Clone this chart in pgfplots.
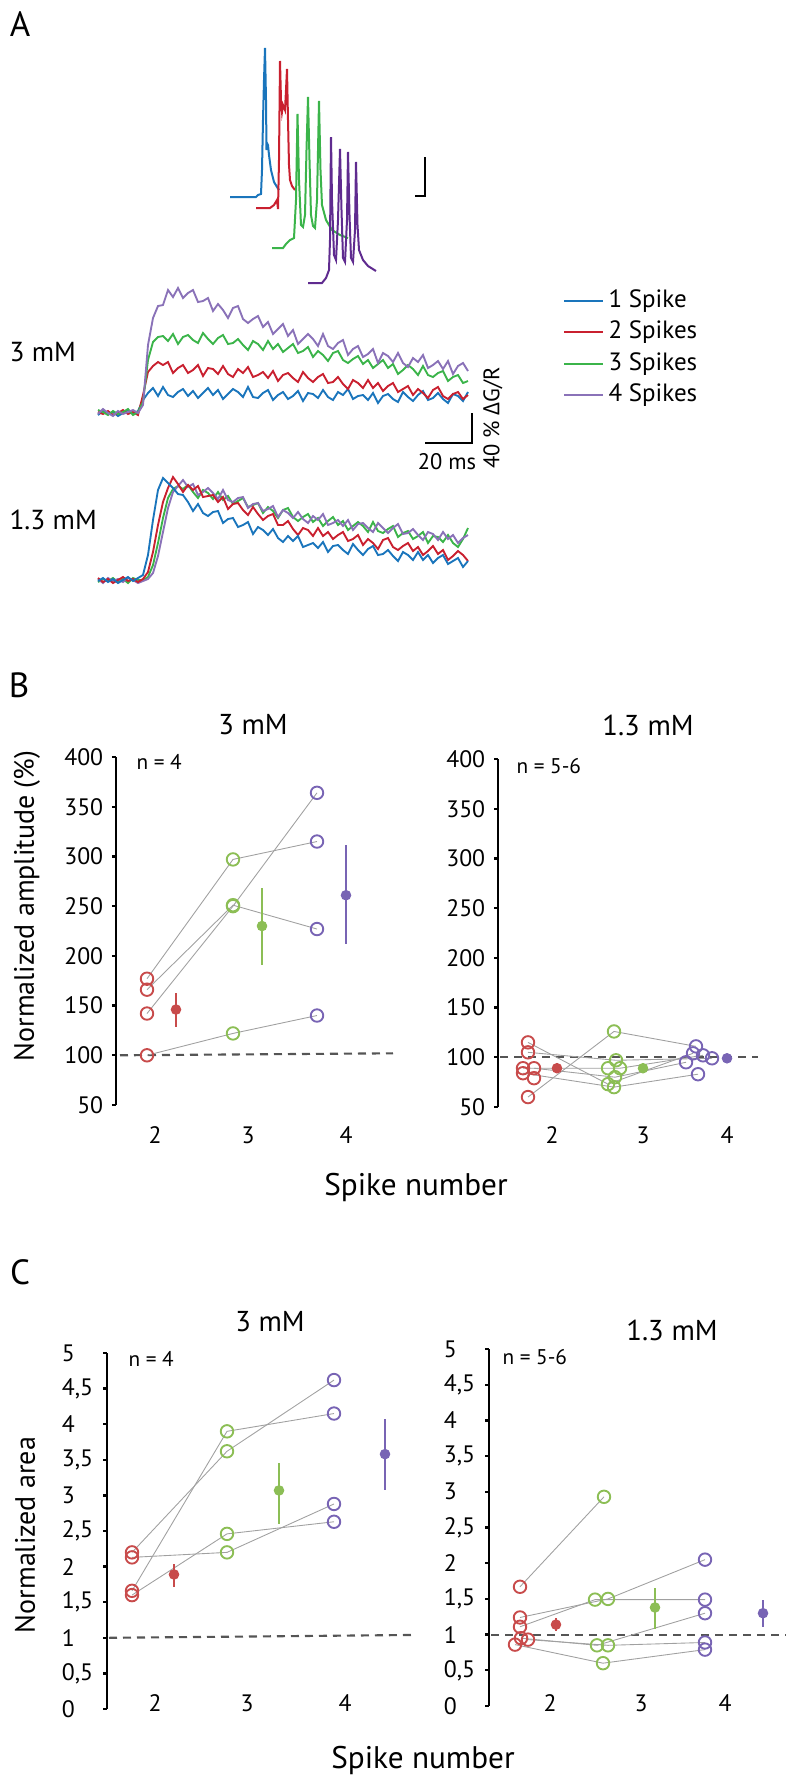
\documentclass[border=0pt]{standalone}
\usepackage{pgfplots}
\pgfplotsset{compat=1.18}
\usepackage{pgfplotstable}
\usepackage{fontspec}
\setmainfont{PT Sans}
\newfontfamily\grk{Open Sans}
\newcommand\fs[1]{\fontsize{#1}{#1}\selectfont}
\definecolor{redc}{HTML}{C84B4B}
\definecolor{greenc}{HTML}{8CBE55}
\definecolor{purplec}{HTML}{7864B4}
\definecolor{tblue}{HTML}{1A75BC}
\definecolor{tred}{HTML}{C9202F}
\definecolor{tgreen}{HTML}{3BB44A}
\definecolor{tpurple}{HTML}{8A72B8}
\definecolor{spurple}{HTML}{5F2B8F}
\definecolor{dashc}{HTML}{555555}
\definecolor{linkc}{HTML}{A0A0A0}

\pgfplotstableread{
x b3 r3 g3 p3 b1 r1 g1 p1
98 415 412 410 414 581 578 582 579
103 411 414 412 409 578 582 579 583
108 414 411 415 413 582 579 581 578
113 412 415 411 416 579 583 578 581
118 416 413 414 411 583 580 582 579
123 413 410 412 414 580 577 579 582
128 410 414 409 412 577 581 583 578
133 414 412 415 410 581 579 578 580
138 411 415 412 413 578 582 580 583
143 400 395 402 405 575 579 580 581
148 393 372 360 345 555 572 577 579
153 388 366 342 318 520 552 565 573
158 396 362 337 306 490 525 543 556
163 387 365 336 305 478 502 518 532
168 395 362 341 290 483 488 498 508
173 397 373 334 297 488 477 489 492
178 392 368 344 288 494 484 486 486
183 389 365 337 298 495 492 489 480
188 396 373 335 293 502 485 485 487
193 391 370 340 290 511 490 492 484
198 398 365 343 302 504 486 498 495
203 393 376 333 301 513 497 490 492
208 388 368 339 298 516 496 493 488
213 395 369 344 311 512 495 499 493
218 390 374 338 304 511 502 492 499
223 399 366 335 310 523 497 500 490
228 394 374 344 318 519 509 496 500
233 389 377 343 308 518 504 504 502
238 392 369 339 306 527 503 501 498
243 397 373 345 319 525 510 498 497
248 387 367 350 323 522 515 507 508
253 397 377 341 319 534 507 505 504
258 398 375 344 316 527 514 503 503
263 393 372 350 327 530 520 513 511
268 390 378 341 322 535 516 507 509
273 400 371 349 334 529 514 511 506
278 395 381 344 329 538 525 518 517
283 392 375 352 324 542 525 510 510
288 399 373 348 336 536 521 508 513
293 396 378 344 330 541 529 517 518
298 391 382 353 344 536 535 521 512
303 401 372 351 339 547 528 517 519
308 393 378 347 334 545 530 514 523
313 394 382 357 339 543 536 522 516
318 398 377 351 346 548 528 518 520
323 390 374 355 334 542 536 526 514
328 397 383 361 346 552 532 521 525
333 400 382 353 349 546 539 517 523
338 392 377 351 343 545 535 525 520
343 395 384 360 340 550 532 521 526
348 389 389 363 355 554 541 530 520
353 399 380 359 349 544 539 526 530
358 396 383 356 346 550 535 522 524
363 395 388 364 357 555 545 526 523
368 400 380 360 354 549 539 532 528
373 393 388 368 349 546 543 522 532
378 403 383 364 363 555 549 531 523
383 396 391 360 353 554 540 533 528
388 394 386 368 356 550 538 529 533
393 399 383 364 362 556 547 526 528
398 402 392 374 353 561 550 537 524
403 392 389 370 363 552 546 533 534
408 397 386 365 367 555 543 531 533
413 401 395 369 358 560 551 539 529
418 395 389 375 362 552 547 536 535
423 391 393 366 355 560 555 532 540
428 400 398 375 368 555 551 543 532
433 398 390 377 365 563 546 536 534
438 393 387 373 361 558 554 537 540
443 399 396 371 369 555 550 542 532
448 403 399 381 361 564 560 535 539
453 394 394 377 374 561 556 543 535
458 396 392 375 366 558 551 547 543
463 401 399 383 363 567 555 539 538
468 392 395 381 371 561 561 528 535
}\traces

\pgfplotsset{
  panel/.style={scale only axis, clip=false, hide x axis, axis y line=left,
    y axis line style={-, line width=0.9pt, black},
    ytick style={line width=0.9pt, black}, tick align=outside,
    major tick length=1.6pt,
    yticklabel style={font=\fs{9.5}, black}},
  link/.style={linkc, line width=0.35pt, mark=none, forget plot},
  opn/.style={only marks, mark=o, mark size=2.5pt, mark options={solid, line width=0.75pt}, color=#1},
  fil/.style={only marks, mark=*, mark size=1.9pt, color=#1,
    error bars/.cd, y dir=both, y explicit, error mark=none,
    error bar style={line width=0.85pt, #1}},
  dsh/.style={dashc, line width=0.85pt, dash pattern=on 3.2pt off 2.4pt, mark=none},
}

\begin{document}
\begin{tikzpicture}[x=0.4pt,y=-0.4pt]
\path[use as bounding box] (0,0) rectangle (786,1775);

% ---------------- Panel A ----------------
\begin{axis}[at={(0pt,0pt)}, anchor=north west, scale only axis, hide axis, clip=false,
  width=314.4pt, height=256pt, xmin=0, xmax=786, ymin=0, ymax=640, y dir=reverse]
% spike traces
\addplot[tblue, line width=0.8pt] coordinates {(230,197)(256,197)(258,195)(261,194)(262,170)(263,120)(264,80)(265,48)(266,100)(266.5,150)(267,143)(268,145)(269,155)(271,170)(274,182)(277,187)(279,190)};
\addplot[tred, line width=0.8pt] coordinates {(256,208)(270,208)(274,205)(277,200)(278,209)(279,160)(280,61)(281,100)(282,112)(283,105)(285,110)(286,90)(287,69)(288,120)(289,165)(290,180)(292,186)(295,190)};
\addplot[tgreen, line width=0.8pt] coordinates {(272,248)(283,248)(286,244)(290,240)(294,238)(296,200)(297.5,114)(299,180)(301,225)(303,227)(305,215)(306.5,150)(308,97)(309.5,160)(311,215)(313,226)(315,228)(317,200)(319,101)(320.5,170)(322,205)(326,220)(332,230)(340,235)(348,238)};
\addplot[spurple, line width=0.8pt] coordinates {(308,283)(322,283)(326,278)(329,270)(330,240)(331,137)(332,200)(334,255)(336,260)(338,220)(340,149)(341.5,210)(343,258)(345,262)(347,220)(348,152)(349.5,215)(351,258)(353,262)(355,230)(356,162)(357.5,225)(359,250)(363,260)(368,266)(376,271)};
\addplot[black, line width=0.8pt] coordinates {(415,196)(425,196)(425,157)};
% 3 mM traces
\addplot[tblue, line width=0.75pt] table[x=x,y=b3]{\traces};
\addplot[tred, line width=0.75pt] table[x=x,y=r3]{\traces};
\addplot[tgreen, line width=0.75pt] table[x=x,y=g3]{\traces};
\addplot[tpurple, line width=0.75pt] table[x=x,y=p3]{\traces};
% 1.3 mM traces
\addplot[tgreen, line width=0.75pt] table[x=x,y=g1]{\traces};
\addplot[tpurple, line width=0.75pt] table[x=x,y=p1]{\traces};
\addplot[tred, line width=0.75pt] table[x=x,y=r1]{\traces};
\addplot[tblue, line width=0.75pt] table[x=x,y=b1]{\traces};
% scale bar
\addplot[black, line width=0.8pt] coordinates {(425,443)(472,443)(472,413)};
% legend lines
\addplot[tblue, line width=0.9pt] coordinates {(564,301)(603,301)};
\addplot[tred, line width=0.9pt] coordinates {(564,332)(603,332)};
\addplot[tgreen, line width=0.9pt] coordinates {(564,364)(603,364)};
\addplot[tpurple, line width=0.9pt] coordinates {(564,395)(603,395)};
\end{axis}

% ---------------- Panel B left ----------------
\begin{axis}[panel, at={(116*0.4pt,-1105*0.4pt)}, anchor=south west,
  width=113.6pt, height=139.2pt, xmin=116, xmax=400, ymin=50, ymax=400,
  ytick={50,100,150,200,250,300,350,400}, yticklabels={50,100,150,200,250,300,350,400}]
\addplot[dsh] coordinates {(120,100)(393,102)};
\addplot[link] coordinates {(147,177)(233,297)(317,315)};
\addplot[link] coordinates {(147,166)(233,251)(317,227)};
\addplot[link] coordinates {(147,142)(233,250)(317,364)};
\addplot[link] coordinates {(147,100)(233,122)(317,140)};
\addplot[opn=redc] coordinates {(147,177)(147,166)(147,142)(147,100)};
\addplot[opn=greenc] coordinates {(233,297)(233,251)(233,250)(233,122)};
\addplot[opn=purplec] coordinates {(317,364)(317,315)(317,227)(317,140)};
\addplot[fil=redc] coordinates {(176,146) += (0,17) -= (0,18)};
\addplot[fil=greenc] coordinates {(262,230) += (0,38) -= (0,39)};
\addplot[fil=purplec] coordinates {(346,261) += (0,51) -= (0,49)};
\end{axis}

% ---------------- Panel B right ----------------
\begin{axis}[panel, at={(498*0.4pt,-1107*0.4pt)}, anchor=south west,
  width=110.8pt, height=139.2pt, xmin=498, xmax=775, ymin=50, ymax=400,
  ytick={50,100,150,200,250,300,350,400}, yticklabels={50,100,150,200,250,300,350,400}]
\addplot[dsh] coordinates {(500,100)(758,100)};
\addplot[link] coordinates {(528,60)(614,126)(696,111)};
\addplot[link] coordinates {(528,115)(608,73)(693,104)};
\addplot[link] coordinates {(528,105)(616,97)(712,99)};
\addplot[link] coordinates {(523,89)(620,89)(703,102)};
\addplot[link] coordinates {(534,89)(615,80)(686,95)};
\addplot[link] coordinates {(523,84)(614,70)(698,83)};
\addplot[opn=redc] coordinates {(528,115)(528,105)(523,89)(534,89)(523,84)(534,79)(528,60)};
\addplot[opn=greenc] coordinates {(614,126)(616,97)(608,89)(620,89)(615,80)(608,73)(614,70)};
\addplot[opn=purplec] coordinates {(696,111)(693,104)(703,102)(712,99)(686,95)(698,83)};
\addplot[fil=redc] coordinates {(557,89) += (0,5) -= (0,4)};
\addplot[fil=greenc] coordinates {(643,89) += (0,5) -= (0,4)};
\addplot[fil=purplec] coordinates {(727,99) += (0,3) -= (0,3)};
\end{axis}

% ---------------- Panel C left ----------------
\begin{axis}[panel, at={(107*0.4pt,-1709*0.4pt)}, anchor=south west,
  width=125.2pt, height=142.4pt, xmin=107, xmax=420, ymin=0, ymax=5,
  ytick={0,0.5,1,1.5,2,2.5,3,3.5,4,4.5,5},
  yticklabels={0,{0,5},1,{1,5},2,{2,5},3,{3,5},4,{4,5},5},
  yticklabel style={anchor=west, xshift=-20pt}]
\addplot[dsh] coordinates {(109,1)(413,1.04)};
\addplot[link] coordinates {(132,2.2)(227,3.62)(334,4.62)};
\addplot[link] coordinates {(132,1.66)(227,3.9)(334,4.15)};
\addplot[link] coordinates {(132,2.13)(227,2.2)(334,2.88)};
\addplot[link] coordinates {(132,1.6)(227,2.46)(334,2.63)};
\addplot[opn=redc] coordinates {(132,2.2)(132,2.13)(132,1.66)(132,1.6)};
\addplot[opn=greenc] coordinates {(227,3.9)(227,3.62)(227,2.46)(227,2.2)};
\addplot[opn=purplec] coordinates {(334,4.62)(334,4.15)(334,2.88)(334,2.63)};
\addplot[fil=redc] coordinates {(174,1.89) += (0,0.15) -= (0,0.17)};
\addplot[fil=greenc] coordinates {(279,3.07) += (0,0.38) -= (0,0.47)};
\addplot[fil=purplec] coordinates {(385,3.58) += (0,0.49) -= (0,0.51)};
\end{axis}

% ---------------- Panel C right ----------------
\begin{axis}[panel, at={(489*0.4pt,-1706*0.4pt)}, anchor=south west,
  width=118.8pt, height=142.8pt, xmin=489, xmax=786, ymin=0, ymax=5,
  ytick={0,0.5,1,1.5,2,2.5,3,3.5,4,4.5,5},
  yticklabels={0,{0,5},1,{1,5},2,{2,5},3,{3,5},4,{4,5},5},
  yticklabel style={anchor=west, xshift=-20pt}]
\addplot[dsh] coordinates {(491,1)(786,1)};
\addplot[link] coordinates {(520,1.67)(604,2.93)};
\addplot[link] coordinates {(520,1.24)(608,1.5)(705,2.05)};
\addplot[link] coordinates {(520,1.11)(595,1.49)(705,1.49)};
\addplot[link] coordinates {(521,0.95)(597,0.85)(705,1.3)};
\addplot[link] coordinates {(528,0.93)(608,0.85)(705,0.89)};
\addplot[link] coordinates {(515,0.86)(603,0.6)(705,0.79)};
\addplot[opn=redc] coordinates {(520,1.67)(520,1.24)(520,1.11)(521,0.95)(528,0.93)(515,0.86)};
\addplot[opn=greenc] coordinates {(604,2.93)(595,1.49)(608,1.5)(597,0.85)(608,0.85)(603,0.6)};
\addplot[opn=purplec] coordinates {(705,2.05)(705,1.49)(705,1.3)(705,0.89)(705,0.79)};
\addplot[fil=redc] coordinates {(556,1.14) += (0,0.09) -= (0,0.09)};
\addplot[fil=greenc] coordinates {(655,1.38) += (0,0.27) -= (0,0.3)};
\addplot[fil=purplec] coordinates {(763,1.3) += (0,0.18) -= (0,0.19)};
\end{axis}

% ---------------- Texts ----------------
\node[font=\fs{14}] at (20,24) {A};
\node[font=\fs{14}] at (19,685) {B};
\node[font=\fs{14}] at (20,1272) {C};

\node[anchor=west, inner sep=0pt, font=\fs{11}] at (9,352) {3 mM};
\node[anchor=west, inner sep=0pt, font=\fs{11}] at (9,520) {1.3 mM};
\node[anchor=west, inner sep=0pt, font=\fs{10}] at (608,301) {1 Spike};
\node[anchor=west, inner sep=0pt, font=\fs{10}] at (608,332) {2 Spikes};
\node[anchor=west, inner sep=0pt, font=\fs{10}] at (608,364) {3 Spikes};
\node[anchor=west, inner sep=0pt, font=\fs{10}] at (608,395) {4 Spikes};
\node[inner sep=0pt, font=\fs{9}] at (447,462) {20 ms};
\node[rotate=90, inner sep=0pt, font=\fs{9}] at (493,418) {40 \% {\grk Δ}G/R};

\node[font=\fs{11.5}] at (253,725) {3 mM};
\node[font=\fs{11.5}] at (648,725) {1.3 mM};
\node[anchor=west, inner sep=0pt, font=\fs{8.5}] at (136,762) {n = 4};
\node[anchor=west, inner sep=0pt, font=\fs{8.5}] at (516,766) {n = 5-6};
\foreach \xx/\lab in {155/2,248/3,346/4,552/2,643/3,727/4}
  \node[font=\fs{9.5}] at (\xx,1135) {\lab};
\node[font=\fs{12.5}] at (416,1187) {Spike number};
\node[rotate=90, font=\fs{11.2}] at (27,906) {Normalized amplitude (\%)};

\node[font=\fs{11.5}] at (270,1322) {3 mM};
\node[font=\fs{11.5}] at (672,1330) {1.3 mM};
\node[anchor=west, inner sep=0pt, font=\fs{8.5}] at (128,1359) {n = 4};
\node[anchor=west, inner sep=0pt, font=\fs{8.5}] at (502,1357) {n = 5-6};
\foreach \xx/\lab in {155/2,247/3,345/4,550/2,641/3,725/4}
  \node[font=\fs{9.5}] at (\xx,1703) {\lab};
\node[font=\fs{12.5}] at (423,1760) {Spike number};
\node[rotate=90, font=\fs{11.2}] at (25,1535) {Normalized area};
\end{tikzpicture}
\end{document}
